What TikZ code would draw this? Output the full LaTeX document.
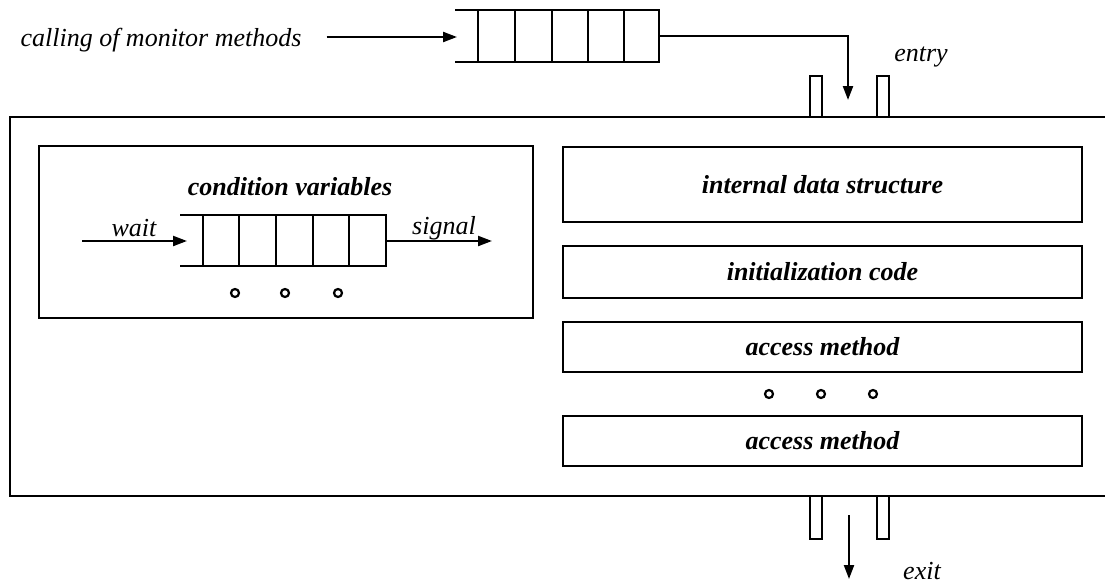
\documentclass[tikz,border=0pt]{standalone}
\usepackage{fontspec}
\setmainfont{Liberation Serif}
\usetikzlibrary{arrows.meta}

\begin{document}
\begin{tikzpicture}[x=1pt,y=-1pt,
  framebox/.style={draw, line width=2.8pt, inner sep=0pt,
    font=\fontsize{26}{30}\selectfont\bfseries\itshape},
  lbl/.style={inner sep=0pt, font=\fontsize{26}{30}\selectfont\itshape},
  title/.style={inner sep=0pt, font=\fontsize{26}{30}\selectfont\bfseries\itshape},
  qline/.style={line width=2.3pt},
  arr/.style={line width=2.2pt, -{Triangle[length=14pt,width=10pt]}},
  post/.style={draw, line width=2.2pt, minimum width=12pt, inner sep=0pt},
  dotmark/.style={circle, draw, line width=2.2pt, minimum size=8pt, inner sep=0pt}]

\useasboundingbox (0,0) rectangle (1105,586);

% monitor outline (continues past the right edge)
\draw[line width=2.8pt] (1112,117) -| (10,496) -- (1112,496);

% entry queue
\draw[qline] (455,10) -- (659,10) -- (659,62) -- (455,62);
\foreach \x in {478,515,552,588,624} \draw[qline] (\x,10) -- (\x,62);
\coordinate (qin) at (457,37);
\coordinate (qout) at (659,36);
\node[lbl, anchor=base] (call) at (161,47) {calling of monitor methods};
\draw[arr] ([xshift=25pt]call.east |- qin) -- (qin);

% entry gate
\node[post, minimum height=41pt] (entryL) at (816,96.5) {};
\node[post, minimum height=41pt] (entryR) at (883,96.5) {};
\coordinate (entrytip) at (848,100);
\draw[arr] (qout) -| (entrytip);
\node[lbl, anchor=base] (entrylbl) at (921,62) {entry};

% exit gate
\node[post, minimum height=43pt] (exitL) at (816,517.5) {};
\node[post, minimum height=43pt] (exitR) at (883,517.5) {};
\coordinate (exitstart) at (849,515);
\coordinate (exittip) at (849,579);
\draw[arr] (exitstart) -- (exittip);
\node[lbl, anchor=base] (exitlbl) at (922,579) {exit};

% condition variables
\node[framebox, minimum width=494pt, minimum height=172pt] (cvbox) at (286,232) {};
\node[title, anchor=base] (cvtitle) at (290,195) {condition variables};
\draw[qline] (180,215) -- (386,215) -- (386,266) -- (180,266);
\foreach \x in {203,239,276,313,349} \draw[qline] (\x,215) -- (\x,266);
\coordinate (waitstart) at (82,241);
\coordinate (cvin) at (187,241);
\coordinate (cvout) at (386,241);
\coordinate (signaltip) at (492,241);
\draw[arr] (waitstart) -- (cvin);
\draw[arr] (cvout) -- (signaltip);
\node[lbl, anchor=base] (waitlbl) at (134,236) {wait};
\node[lbl, anchor=base] (signallbl) at (444,234) {signal};
\node[dotmark] (cd1) at (235,293) {};
\node[dotmark] (cd2) at (285,293) {};
\node[dotmark] (cd3) at (338,293) {};

% monitor contents
\node[framebox, minimum width=519pt, minimum height=75pt] (data) at (822.5,184.5) {internal data structure};
\node[framebox, minimum width=519pt, minimum height=52pt] (init) at (822.5,272) {initialization code};
\node[framebox, minimum width=519pt, minimum height=50pt] (acc1) at (822.5,347) {access method};
\node[dotmark] (ad1) at (769,394) {};
\node[dotmark] (ad2) at (821,394) {};
\node[dotmark] (ad3) at (873,394) {};
\node[framebox, minimum width=519pt, minimum height=50pt] (acc2) at (822.5,441) {access method};
\end{tikzpicture}
\end{document}
